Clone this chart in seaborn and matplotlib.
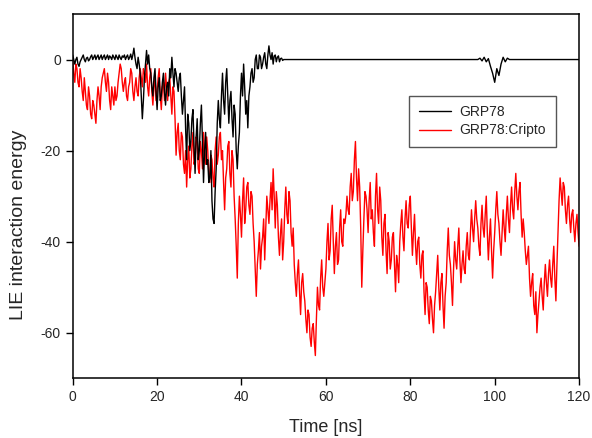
import numpy as np
import pandas as pd
import matplotlib
matplotlib.use("Agg")
import matplotlib.pyplot as plt
import seaborn as sns

# LIE interaction energy traces.
# Samples every 0.5 ns, plus the readings half-way between them.
STEP = 0.5
red_energy = [
    0, -5, -2, -6, -4, -9, -7, -11, -8, -13,
    -10, -14, -6, -11, -4, -2, -7, -5, -11, -8,
    -6, -8, -3, -2, -7, -4, -9, -5, -3, -9,
    -4, -8, -2, -6, -3, -1, -8, -2, -10, -4,
    -7, -2, -11, -5, -3, -9, -4, -12, -7, -21,
    -14, -22, -17, -25, -28, -19, -24, -16, -22, -18,
    -25, -20, -16, -23, -20, -27, -22, -28, -17, -21,
    -16, -20, -33, -24, -18, -28, -22, -35, -48, -30,
    -39, -26, -33, -27, -34, -30, -40, -52, -42, -46,
    -39, -44, -30, -36, -27, -24, -37, -32, -43, -35,
    -40, -28, -36, -31, -41, -45, -52, -44, -56, -47,
    -53, -60, -56, -63, -58, -65, -50, -55, -44, -52,
    -46, -36, -42, -32, -47, -38, -44, -33, -41, -36,
    -30, -34, -25, -29, -18, -31, -28, -50, -35, -30,
    -38, -27, -33, -41, -25, -36, -31, -43, -34, -47,
    -40, -44, -38, -51, -45, -40, -33, -42, -31, -37,
    -30, -43, -34, -45, -39, -48, -42, -56, -50, -58,
    -53, -60, -51, -43, -55, -47, -59, -49, -37, -45,
    -54, -40, -46, -37, -49, -42, -47, -38, -44, -33,
    -40, -31, -37, -43, -32, -39, -30, -44, -35, -48,
    -38, -29, -36, -43, -33, -40, -30, -38, -28, -35,
    -25, -33, -27, -39, -38, -45, -41, -52, -47, -56,
    -60, -53, -48, -55, -45, -52, -44, -50, -41, -53,
    -38, -26, -32, -28, -36, -30, -38, -33, -40, -34, -41,
]
red_energy_mid = [
    -3, -1, -5, -2, -7, -4, -10, -6, -12, -9,
    -12, -9, -8, -6, -3, -5, -3, -9, -6, -10,
    -9, -5, -1, -5, -5, -8, -6, -2, -7, -6,
    -7, -4, -4, -2, -5, -6, -4, -7, -6, -9,
    -4, -8, -6, -9, -6, -5, -8, -6, -13, -16,
    -20, -16, -23, -20, -22, -26, -19, -23, -17, -24,
    -18, -24, -21, -17, -25, -21, -26, -20, -23, -17,
    -22, -27, -26, -19, -25, -20, -30, -41, -36, -34,
    -31, -36, -28, -32, -29, -36, -46, -45, -38, -41,
    -35, -37, -33, -31, -33, -30, -29, -39, -38, -44,
    -33, -34, -29, -38, -37, -49, -47, -51, -49, -51,
    -57, -55, -61, -59, -62, -57, -54, -48, -50, -49,
    -40, -44, -35, -40, -41, -45, -37, -40, -35, -34,
    -33, -28, -31, -22, -26, -24, -37, -42, -29, -33,
    -31, -35, -38, -30, -33, -28, -39, -36, -42, -38,
    -46, -39, -45, -43, -49, -36, -39, -35, -36, -32,
    -37, -38, -41, -40, -45, -43, -51, -49, -55, -52,
    -57, -54, -47, -50, -49, -54, -52, -42, -43, -49,
    -46, -44, -41, -44, -45, -46, -41, -43, -38, -37,
    -35, -35, -41, -36, -37, -34, -38, -39, -42, -42,
    -33, -34, -40, -38, -37, -34, -35, -32, -33, -29,
    -30, -29, -34, -35, -42, -43, -48, -49, -54, -51,
    -56, -50, -52, -49, -49, -47, -48, -45, -48, -45,
    -31, -29, -27, -33, -32, -35, -34, -37, -36, -38,
]

# GRP78 alone: active for the first 50 ns, then flat apart from a blip near 100 ns
black_energy = [
    1, -1, 0.5, -1.5, 0, 1, -0.5, 0.5, 0, 1,
    0.5, 0, 1, 0.5, 0, 1, 0.5, 0, 0.5, 1,
    0, 0.5, 1, 0, 0.5, 0, 1, 0.5, 0, 2.5,
    -1, 0.5, -3, -13, -4, 2, 1, -3, -8, -2,
    -11, -4, -8, -3, -10, -5, -2, 0.5, -6, -3,
    -7, -3, -12, -6, -22, -14, -18, -11, -25, -13,
    -20, -10, -27, -16, -22, -26, -31, -36, -24, -9,
    -15, -3, -12, -2, -14, -7, -17, -12, -24, -16,
    -3, -1, -12, -15, -6, -2, -4, 1, -2, 0.5,
    -1, 1.5, -2, 3, 0, -1, 1, 0.5, -0.5, 0.3, 0,
]
black_energy_mid = [
    0, 0, -1, -0.5, 0.5, 0, 0.3, -0.3, 0.6, 0,
    1, 0.6, 0, 1, 0.6, 0, 1, 0.8, 0, 0.5,
    1, 0, 0.4, 0.8, 1, 0.6, 0, 1.2, 1, 0.5,
    -2, -1, -8, -9, -1, -1, -2, -6, -4, -7,
    -6, -9, -5, -7, -6, -8, -4, -3, -2, -5,
    -4, -8, -9, -15, -12, -20, -13, -19, -17, -22,
    -14, -18, -20, -23, -27, -20, -35, -29, -14, -13,
    -8, -9, -5, -8, -9, -13, -10, -20, -19, -8,
    -8, -6, -9, -8, -3, -5, 0, -2, 1, -2,
    0.5, -1, 1, 1, 1.5, 0.8, -0.5, 0.8, 0.2, -0.2,
]
black_tail_time = [96, 96.5, 97, 97.5, 98, 98.5, 99, 99.5, 100, 100.5,
                   101, 101.5, 102, 102.5, 103, 103.5, 120]
black_tail_energy = [0, 0.3, -0.3, 0.5, -0.5, 0.2, -1.5, -3, -5, -2,
                     -3.5, -1, 0.5, -0.5, 0.3, 0, 0]


def interleave(on_grid, mid):
    """Merge on-grid samples with the half-step readings, in time order."""
    t = np.arange(len(on_grid)) * STEP
    times = np.empty(len(on_grid) + len(mid))
    vals = np.empty_like(times)
    times[0::2], vals[0::2] = t, on_grid
    times[1::2], vals[1::2] = t[:-1] + STEP / 2, mid
    return times, vals


red_t, red_v = interleave(red_energy, red_energy_mid)
blk_t, blk_v = interleave(black_energy, black_energy_mid)
blk_t = np.concatenate([blk_t, black_tail_time])
blk_v = np.concatenate([blk_v, black_tail_energy])

df = pd.concat([
    pd.DataFrame({"time": blk_t, "energy": blk_v, "system": "GRP78"}),
    pd.DataFrame({"time": red_t, "energy": red_v, "system": "GRP78:Cripto"}),
])

sns.set_style("ticks")
plt.rcParams["font.family"] = ["Liberation Sans", "DejaVu Sans"]
plt.rcParams["axes.unicode_minus"] = False

fig = plt.figure(figsize=(5.92, 4.38), dpi=100)
ax = fig.add_axes([72.7 / 592, 1 - 378.3 / 438, 506.4 / 592, 364.3 / 438])

colors = {"GRP78": "black", "GRP78:Cripto": "#ff0000"}
for name in ["GRP78:Cripto", "GRP78"]:
    sub = df[df["system"] == name]
    sns.lineplot(data=sub, x="time", y="energy", color=colors[name],
                 lw=1.0, estimator=None, sort=False, label=name, ax=ax)

ax.set_xlim(0, 120)
ax.set_ylim(-70, 10)
ax.set_xticks(range(0, 121, 20))
ax.set_yticks([0, -20, -40, -60])
ax.tick_params(direction="out", length=5, width=1, labelsize=10, color="black")
for s in ax.spines.values():
    s.set_visible(True)
    s.set_color("black")
    s.set_linewidth(1.1)

ax.set_xlabel("Time [ns]", fontsize=13, labelpad=11)
ax.set_ylabel("LIE interaction energy", fontsize=14)
ax.yaxis.set_label_coords(-0.09, 0.42)

handles, labels = ax.get_legend_handles_labels()
order = [labels.index("GRP78"), labels.index("GRP78:Cripto")]
leg = ax.legend([handles[i] for i in order], [labels[i] for i in order],
                loc="upper left", bbox_to_anchor=(0.665, 0.776),
                borderaxespad=0, fontsize=10, frameon=True, fancybox=False,
                framealpha=1, edgecolor="#555555", handlelength=2.3,
                handletextpad=0.6, borderpad=0.7, labelspacing=0.3)
leg.get_frame().set_linewidth(1.0)

fig.savefig("out.png", dpi=100)
